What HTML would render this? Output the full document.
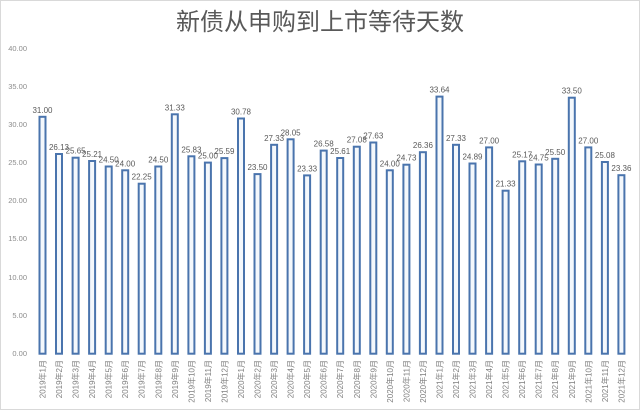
<!DOCTYPE html>
<html><head><meta charset="utf-8"><style>
html,body{margin:0;padding:0;background:#fff}
svg{display:block}
text{font-family:"Liberation Sans","Noto Sans CJK SC",sans-serif}
</style></head><body>
<svg width="640" height="410" viewBox="0 0 640 410" xmlns="http://www.w3.org/2000/svg">
<rect x="0.5" y="0.5" width="639" height="409" fill="#fff" stroke="#d9d9d9"/>
<text x="320" y="30" text-anchor="middle" font-size="24" fill="#595959" style="font-family:'Noto Sans CJK SC',sans-serif">新债从申购到上市等待天数</text>
<g font-size="7.5" fill="#8c8c8c" text-anchor="end">
<text x="27" y="356">0.00</text><text x="27" y="318">5.00</text><text x="27" y="280">10.00</text><text x="27" y="241">15.00</text><text x="27" y="203">20.00</text><text x="27" y="165">25.00</text><text x="27" y="127">30.00</text><text x="27" y="89">35.00</text><text x="27" y="51">40.00</text>
</g>
<g fill="#f4f8fc" stroke="#4a74ad" stroke-width="2">
<rect x="39.5" y="116.8" width="6" height="236.9"/>
<rect x="56" y="154" width="6" height="199.7"/>
<rect x="72.6" y="157.7" width="6" height="196"/>
<rect x="89.1" y="161" width="6" height="192.7"/>
<rect x="105.7" y="166.5" width="6" height="187.2"/>
<rect x="122.2" y="170.3" width="6" height="183.4"/>
<rect x="138.7" y="183.7" width="6" height="170"/>
<rect x="155.3" y="166.5" width="6" height="187.2"/>
<rect x="171.8" y="114.3" width="6" height="239.4"/>
<rect x="188.4" y="156.3" width="6" height="197.4"/>
<rect x="204.9" y="162.6" width="6" height="191.1"/>
<rect x="221.4" y="158.1" width="6" height="195.6"/>
<rect x="238" y="118.5" width="6" height="235.2"/>
<rect x="254.5" y="174.1" width="6" height="179.6"/>
<rect x="271.1" y="144.8" width="6" height="208.9"/>
<rect x="287.6" y="139.3" width="6" height="214.4"/>
<rect x="304.1" y="175.4" width="6" height="178.3"/>
<rect x="320.7" y="150.6" width="6" height="203.1"/>
<rect x="337.2" y="158" width="6" height="195.7"/>
<rect x="353.8" y="146.7" width="6" height="207"/>
<rect x="370.3" y="142.5" width="6" height="211.2"/>
<rect x="386.8" y="170.3" width="6" height="183.4"/>
<rect x="403.4" y="164.7" width="6" height="189"/>
<rect x="419.9" y="152.2" width="6" height="201.5"/>
<rect x="436.5" y="96.6" width="6" height="257.1"/>
<rect x="453" y="144.8" width="6" height="208.9"/>
<rect x="469.5" y="163.5" width="6" height="190.2"/>
<rect x="486.1" y="147.4" width="6" height="206.3"/>
<rect x="502.6" y="190.7" width="6" height="163"/>
<rect x="519.2" y="161.3" width="6" height="192.4"/>
<rect x="535.7" y="164.5" width="6" height="189.2"/>
<rect x="552.2" y="158.8" width="6" height="194.9"/>
<rect x="568.8" y="97.7" width="6" height="256"/>
<rect x="585.3" y="147.4" width="6" height="206.3"/>
<rect x="601.9" y="162" width="6" height="191.7"/>
<rect x="618.4" y="175.2" width="6" height="178.5"/>
</g>
<g font-size="8" fill="#595959" text-anchor="middle">
<text x="42.5" y="112.8">31.00</text>
<text x="59" y="150">26.13</text>
<text x="75.6" y="153.7">25.65</text>
<text x="92.1" y="157">25.21</text>
<text x="108.7" y="162.5">24.50</text>
<text x="125.2" y="166.3">24.00</text>
<text x="141.7" y="179.7">22.25</text>
<text x="158.3" y="162.5">24.50</text>
<text x="174.8" y="110.3">31.33</text>
<text x="191.4" y="152.3">25.83</text>
<text x="207.9" y="158.6">25.00</text>
<text x="224.4" y="154.1">25.59</text>
<text x="241" y="114.5">30.78</text>
<text x="257.5" y="170.1">23.50</text>
<text x="274.1" y="140.8">27.33</text>
<text x="290.6" y="135.3">28.05</text>
<text x="307.1" y="171.4">23.33</text>
<text x="323.7" y="146.6">26.58</text>
<text x="340.2" y="154">25.61</text>
<text x="356.8" y="142.7">27.08</text>
<text x="373.3" y="138.5">27.63</text>
<text x="389.8" y="166.3">24.00</text>
<text x="406.4" y="160.7">24.73</text>
<text x="422.9" y="148.2">26.36</text>
<text x="439.5" y="92.6">33.64</text>
<text x="456" y="140.8">27.33</text>
<text x="472.5" y="159.5">24.89</text>
<text x="489.1" y="143.4">27.00</text>
<text x="505.6" y="186.7">21.33</text>
<text x="522.2" y="157.3">25.17</text>
<text x="538.7" y="160.5">24.75</text>
<text x="555.2" y="154.8">25.50</text>
<text x="571.8" y="93.7">33.50</text>
<text x="588.3" y="143.4">27.00</text>
<text x="604.9" y="158">25.08</text>
<text x="621.4" y="171.2">23.36</text>
</g>
<g font-size="8" fill="#7f7f7f" text-anchor="end" style="font-family:'Liberation Sans','Noto Sans CJK SC',sans-serif">
<text transform="translate(45.5,360) rotate(-90)">2019年1月</text>
<text transform="translate(62,360) rotate(-90)">2019年2月</text>
<text transform="translate(78.6,360) rotate(-90)">2019年3月</text>
<text transform="translate(95.1,360) rotate(-90)">2019年4月</text>
<text transform="translate(111.7,360) rotate(-90)">2019年5月</text>
<text transform="translate(128.2,360) rotate(-90)">2019年6月</text>
<text transform="translate(144.7,360) rotate(-90)">2019年7月</text>
<text transform="translate(161.3,360) rotate(-90)">2019年8月</text>
<text transform="translate(177.8,360) rotate(-90)">2019年9月</text>
<text transform="translate(194.4,360) rotate(-90)">2019年10月</text>
<text transform="translate(210.9,360) rotate(-90)">2019年11月</text>
<text transform="translate(227.4,360) rotate(-90)">2019年12月</text>
<text transform="translate(244,360) rotate(-90)">2020年1月</text>
<text transform="translate(260.5,360) rotate(-90)">2020年2月</text>
<text transform="translate(277.1,360) rotate(-90)">2020年3月</text>
<text transform="translate(293.6,360) rotate(-90)">2020年4月</text>
<text transform="translate(310.1,360) rotate(-90)">2020年5月</text>
<text transform="translate(326.7,360) rotate(-90)">2020年6月</text>
<text transform="translate(343.2,360) rotate(-90)">2020年7月</text>
<text transform="translate(359.8,360) rotate(-90)">2020年8月</text>
<text transform="translate(376.3,360) rotate(-90)">2020年9月</text>
<text transform="translate(392.8,360) rotate(-90)">2020年10月</text>
<text transform="translate(409.4,360) rotate(-90)">2020年11月</text>
<text transform="translate(425.9,360) rotate(-90)">2020年12月</text>
<text transform="translate(442.5,360) rotate(-90)">2021年1月</text>
<text transform="translate(459,360) rotate(-90)">2021年2月</text>
<text transform="translate(475.5,360) rotate(-90)">2021年3月</text>
<text transform="translate(492.1,360) rotate(-90)">2021年4月</text>
<text transform="translate(508.6,360) rotate(-90)">2021年5月</text>
<text transform="translate(525.2,360) rotate(-90)">2021年6月</text>
<text transform="translate(541.7,360) rotate(-90)">2021年7月</text>
<text transform="translate(558.2,360) rotate(-90)">2021年8月</text>
<text transform="translate(574.8,360) rotate(-90)">2021年9月</text>
<text transform="translate(591.3,360) rotate(-90)">2021年10月</text>
<text transform="translate(607.9,360) rotate(-90)">2021年11月</text>
<text transform="translate(624.4,360) rotate(-90)">2021年12月</text>
</g>
</svg>
</body></html>
